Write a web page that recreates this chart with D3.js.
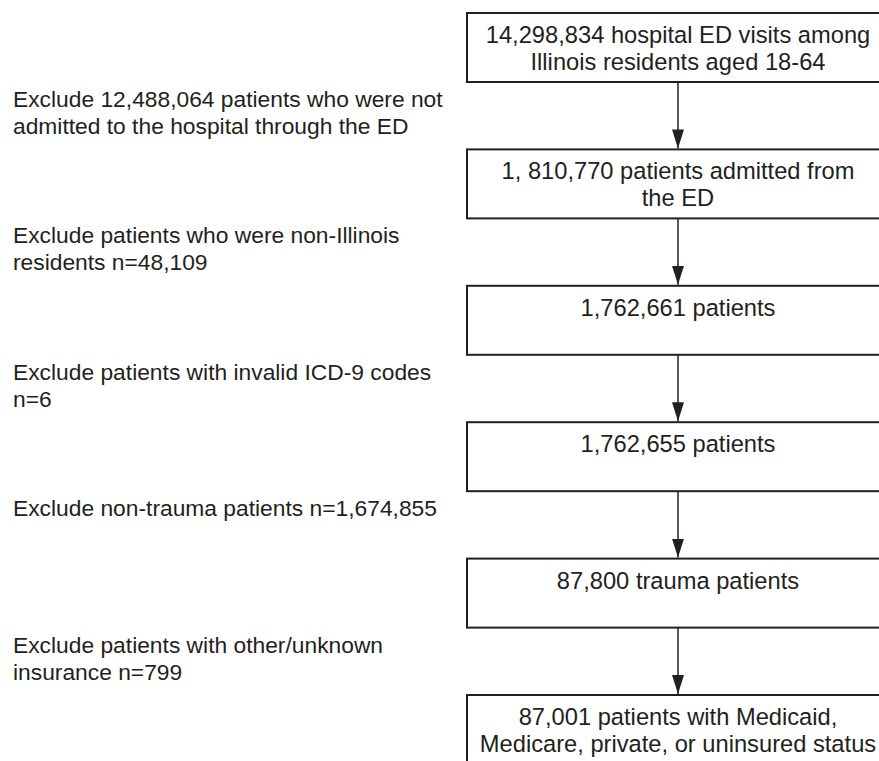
<!DOCTYPE html>
<html>
<head>
<meta charset="utf-8">
<script src="https://cdn.jsdelivr.net/npm/d3@7"></script>
<style>
  body { margin: 0; background: #fff; }
  svg { display: block; }
  text { font-family: "Liberation Sans", Arial, Helvetica, sans-serif; fill: #231f20; }
</style>
</head>
<body>
<script>
const width = 879;
const height = 761;

// flow steps (box text, one entry per line)
const steps = [
  ["14,298,834 hospital ED visits among", "Illinois residents aged 18-64"],
  ["1, 810,770 patients admitted from", "the ED"],
  ["1,762,661 patients"],
  ["1,762,655 patients"],
  ["87,800 trauma patients"],
  ["87,001 patients with Medicaid,", "Medicare, private, or uninsured status"],
];

// exclusions between consecutive steps
const exclusions = [
  ["Exclude 12,488,064 patients who were not", "admitted to the hospital through the ED"],
  ["Exclude patients who were non-Illinois", "residents n=48,109"],
  ["Exclude patients with invalid ICD-9 codes", "n=6"],
  ["Exclude non-trauma patients n=1,674,855"],
  ["Exclude patients with other/unknown", "insurance n=799"],
];

const boxLeft = 467;
const boxRight = 889;
const boxHeight = 69;
const lineHeight = 27;
const ink = "#231f20";

const y = d3.scaleLinear().domain([0, steps.length - 1]).range([13, 695]);
const cx = (boxLeft + boxRight) / 2;

const svg = d3.select("body").append("svg").attr("width", width).attr("height", height);

// arrow head, drawn pointing down
svg.append("defs")
  .append("marker")
  .attr("id", "arrow")
  .attr("viewBox", [0, 0, 12, 19])
  .attr("refX", 6)
  .attr("refY", 19)
  .attr("markerWidth", 12)
  .attr("markerHeight", 19)
  .attr("markerUnits", "userSpaceOnUse")
  .attr("orient", 0)
  .append("path")
  .attr("d", d3.line()([[0, 0], [12, 0], [6, 19]]))
  .attr("fill", ink);

// boxes
const box = svg.selectAll(".step")
  .data(steps)
  .enter()
  .append("g")
  .attr("class", "step");

box.append("rect")
  .attr("x", boxLeft)
  .attr("y", (d, i) => y(i))
  .attr("width", boxRight - boxLeft)
  .attr("height", boxHeight)
  .attr("fill", "none")
  .attr("stroke", ink)
  .attr("stroke-width", 2);

box.append("text")
  .attr("text-anchor", "middle")
  .attr("font-size", 23.7)
  .selectAll("tspan")
  .data((d, i) => d.map((t, j) => ({ t, yy: y(i) + 30 + j * lineHeight })))
  .enter()
  .append("tspan")
  .attr("x", cx)
  .attr("y", (d) => d.yy)
  .text((d) => d.t);

// arrows
svg.selectAll(".arrow")
  .data(d3.range(steps.length - 1))
  .enter()
  .append("line")
  .attr("class", "arrow")
  .attr("x1", cx)
  .attr("x2", cx)
  .attr("y1", (i) => y(i) + boxHeight)
  .attr("y2", (i) => y(i + 1) - 1)
  .attr("stroke", ink)
  .attr("stroke-width", 1.5)
  .attr("marker-end", "url(#arrow)");

// exclusion notes
svg.selectAll(".note")
  .data(exclusions)
  .enter()
  .append("text")
  .attr("class", "note")
  .attr("font-size", 22.8)
  .selectAll("tspan")
  .data((d, i) => d.map((t, j) => ({ t, yy: y(i) + boxHeight + 25 + j * lineHeight })))
  .enter()
  .append("tspan")
  .attr("x", 13)
  .attr("y", (d) => d.yy)
  .text((d) => d.t);
</script>
</body>
</html>
